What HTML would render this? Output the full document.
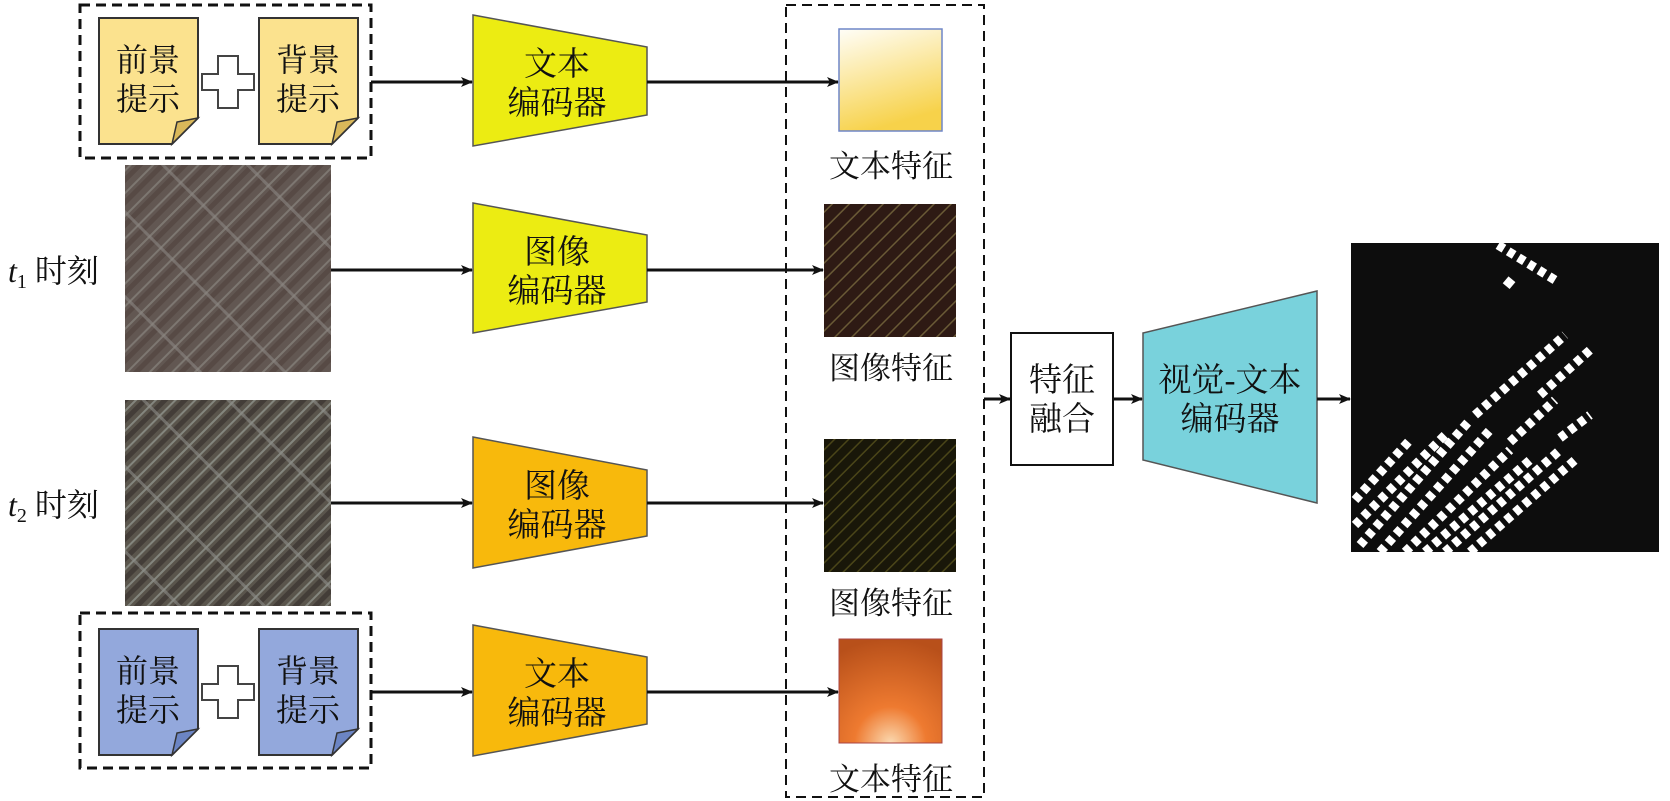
<!DOCTYPE html>
<html><head><meta charset="utf-8"><style>
html,body{margin:0;padding:0;background:#fff;}
svg{display:block;}
text{font-family:"Liberation Serif","Noto Serif CJK SC",serif;}
</style></head><body>
<svg width="1670" height="801" viewBox="0 0 1670 801" xmlns="http://www.w3.org/2000/svg">
<defs>
<marker id="ar" markerWidth="12" markerHeight="10" refX="11" refY="5" orient="auto" markerUnits="userSpaceOnUse">
<path d="M0,0 L12,5 L0,10 L3,5 Z" fill="#111"/></marker>
<linearGradient id="yg" x1="0" y1="0" x2="0.3" y2="1"><stop offset="0" stop-color="#fffef8"/><stop offset="1" stop-color="#f7d24a"/></linearGradient>
<radialGradient id="og" cx="0.5" cy="1" r="1"><stop offset="0" stop-color="#fbd9b0"/><stop offset="0.35" stop-color="#ee7a30"/><stop offset="1" stop-color="#b8501a"/></radialGradient>
<pattern id="sat1" width="16" height="16" patternUnits="userSpaceOnUse" patternTransform="rotate(-45)">
<rect width="16" height="16" fill="#5f5752"/><rect y="0" width="16" height="2" fill="#86847f"/><rect y="5" width="16" height="5" fill="#4f4440"/></pattern>
<pattern id="sat1b" width="60" height="60" patternUnits="userSpaceOnUse" patternTransform="rotate(45)">
<rect width="60" height="60" fill="none"/><rect width="60" height="3" fill="#9a9a96" opacity="0.6"/></pattern>
<pattern id="sat2" width="14" height="14" patternUnits="userSpaceOnUse" patternTransform="rotate(-45)">
<rect width="14" height="14" fill="#5a544c"/><rect y="0" width="14" height="2" fill="#8f918a"/><rect y="5" width="14" height="5" fill="#3e3632"/></pattern>
<pattern id="f1" width="12" height="12" patternUnits="userSpaceOnUse" patternTransform="rotate(-45)">
<rect width="12" height="12" fill="#2e1a14"/><rect width="12" height="1.5" fill="#6a5a36"/></pattern>
<pattern id="f2" width="10" height="10" patternUnits="userSpaceOnUse" patternTransform="rotate(-45)">
<rect width="10" height="10" fill="#191709"/><rect width="10" height="1.5" fill="#4a4518"/></pattern>
<g id="cardY">
<path d="M0,0 H99 V100 L73,126 H0 Z" fill="#fbe28e" stroke="#333" stroke-width="2"/>
<path d="M99,100 L73,126 L78,104 Z" fill="#d9b85a" stroke="#333" stroke-width="1.5"/></g>
<g id="cardB">
<path d="M0,0 H99 V100 L73,126 H0 Z" fill="#93a8dc" stroke="#333" stroke-width="2"/>
<path d="M99,100 L73,126 L78,104 Z" fill="#6c85c4" stroke="#333" stroke-width="1.5"/></g>
<path id="plus" d="M16,0 H36 V18 H52 V34 H36 V52 H16 V34 H0 V18 H16 Z" fill="#fff" stroke="#444" stroke-width="2"/>
</defs>

<rect x="80" y="5" width="291" height="153" fill="none" stroke="#111" stroke-width="3" stroke-dasharray="10,6"/>
<use href="#cardY" x="99" y="18"/><use href="#cardY" x="259" y="18"/>
<use href="#plus" x="202" y="56"/>
<g font-size="32" fill="#111"><text x="148" y="71" text-anchor="middle">前景</text><text x="148" y="110" text-anchor="middle">提示</text>
<text x="308" y="71" text-anchor="middle">背景</text><text x="308" y="110" text-anchor="middle">提示</text></g>

<rect x="80" y="613" width="291" height="155" fill="none" stroke="#111" stroke-width="3" stroke-dasharray="10,6"/>
<use href="#cardB" x="99" y="629"/><use href="#cardB" x="259" y="629"/>
<use href="#plus" x="202" y="666"/>
<g font-size="32" fill="#111"><text x="148" y="682" text-anchor="middle">前景</text><text x="148" y="721" text-anchor="middle">提示</text>
<text x="308" y="682" text-anchor="middle">背景</text><text x="308" y="721" text-anchor="middle">提示</text></g>

<rect x="125" y="165" width="206" height="207" fill="url(#sat1)"/>
<rect x="125" y="165" width="206" height="207" fill="url(#sat1b)"/>
<rect x="125" y="165" width="206" height="207" fill="#6a5a52" opacity="0.3"/>
<rect x="125" y="400" width="206" height="206" fill="url(#sat2)"/>
<rect x="125" y="400" width="206" height="206" fill="url(#sat1b)"/>
<rect x="125" y="400" width="206" height="206" fill="#5a5a50" opacity="0.2"/>
<text x="8" y="282" font-size="32" fill="#111"><tspan font-style="italic">t</tspan><tspan font-size="20" dy="6">1</tspan><tspan dy="-6"> 时刻</tspan></text>
<text x="8" y="516" font-size="32" fill="#111"><tspan font-style="italic">t</tspan><tspan font-size="20" dy="6">2</tspan><tspan dy="-6"> 时刻</tspan></text>

<g stroke="#555" stroke-width="1.5">
<path d="M473,15 L647,47 L647,115 L473,146 Z" fill="#ecec12"/>
<path d="M473,203 L647,235 L647,302 L473,333 Z" fill="#ecec12"/>
<path d="M473,437 L647,470 L647,536 L473,568 Z" fill="#f8b90c"/>
<path d="M473,625 L647,657 L647,724 L473,756 Z" fill="#f8b90c"/>
<path d="M1143,333 L1317,291 L1317,503 L1143,460 Z" fill="#79d2dc"/>
</g>
<g font-size="33" fill="#111" text-anchor="middle">
<text x="557" y="75">文本</text><text x="557" y="114">编码器</text>
<text x="557" y="263">图像</text><text x="557" y="302">编码器</text>
<text x="557" y="497">图像</text><text x="557" y="536">编码器</text>
<text x="557" y="685">文本</text><text x="557" y="724">编码器</text>
<text x="1230" y="391">视觉-文本</text><text x="1230" y="430">编码器</text>
</g>

<g stroke="#111" stroke-width="3" marker-end="url(#ar)">
<line x1="371" y1="82" x2="472" y2="82"/>
<line x1="331" y1="270" x2="472" y2="270"/>
<line x1="331" y1="503" x2="472" y2="503"/>
<line x1="371" y1="692" x2="472" y2="692"/>
<line x1="647" y1="82" x2="838" y2="82"/>
<line x1="647" y1="270" x2="823" y2="270"/>
<line x1="647" y1="503" x2="823" y2="503"/>
<line x1="647" y1="692" x2="838" y2="692"/>
<line x1="984" y1="399" x2="1010" y2="399"/>
<line x1="1113" y1="399" x2="1142" y2="399"/>
<line x1="1317" y1="399" x2="1350" y2="399"/>
</g>

<rect x="786" y="5" width="198" height="792" fill="none" stroke="#111" stroke-width="2" stroke-dasharray="10,6"/>
<rect x="839" y="29" width="103" height="102" fill="url(#yg)" stroke="#6f86c8" stroke-width="1.5"/>
<rect x="824" y="204" width="132" height="133" fill="url(#f1)"/>
<rect x="824" y="439" width="132" height="133" fill="url(#f2)"/>
<rect x="839" y="639" width="103" height="104" fill="url(#og)" stroke="#a44" stroke-width="1"/>
<g font-size="31" fill="#111" text-anchor="middle">
<text x="891" y="177">文本特征</text>
<text x="891" y="379">图像特征</text>
<text x="891" y="614">图像特征</text>
<text x="891" y="790">文本特征</text>
</g>

<rect x="1011" y="333" width="102" height="132" fill="#fff" stroke="#111" stroke-width="2"/>
<g font-size="33" fill="#111" text-anchor="middle"><text x="1062" y="391">特征</text><text x="1062" y="430">融合</text></g>

<rect x="1351" y="243" width="308" height="309" fill="#0d0d0d"/>
<g stroke="#fff" stroke-width="9" stroke-dasharray="7,5">
<line x1="1498" y1="245" x2="1555" y2="280"/>
<line x1="1355" y1="500" x2="1410" y2="440"/>
<line x1="1355" y1="525" x2="1445" y2="435"/>
<line x1="1360" y1="545" x2="1470" y2="420"/>
<line x1="1380" y1="552" x2="1490" y2="430"/>
<line x1="1405" y1="552" x2="1510" y2="450"/>
<line x1="1425" y1="552" x2="1530" y2="460"/>
<line x1="1445" y1="552" x2="1560" y2="450"/>
<line x1="1470" y1="552" x2="1575" y2="460"/>
<line x1="1475" y1="415" x2="1565" y2="335"/>
<line x1="1540" y1="395" x2="1590" y2="350"/>
<line x1="1510" y1="442" x2="1555" y2="400"/>
<line x1="1560" y1="438" x2="1590" y2="415"/>
</g>
<rect x="1505" y="278" width="9" height="9" fill="#fff" transform="rotate(40 1509 282)"/>
</svg>
</body></html>
